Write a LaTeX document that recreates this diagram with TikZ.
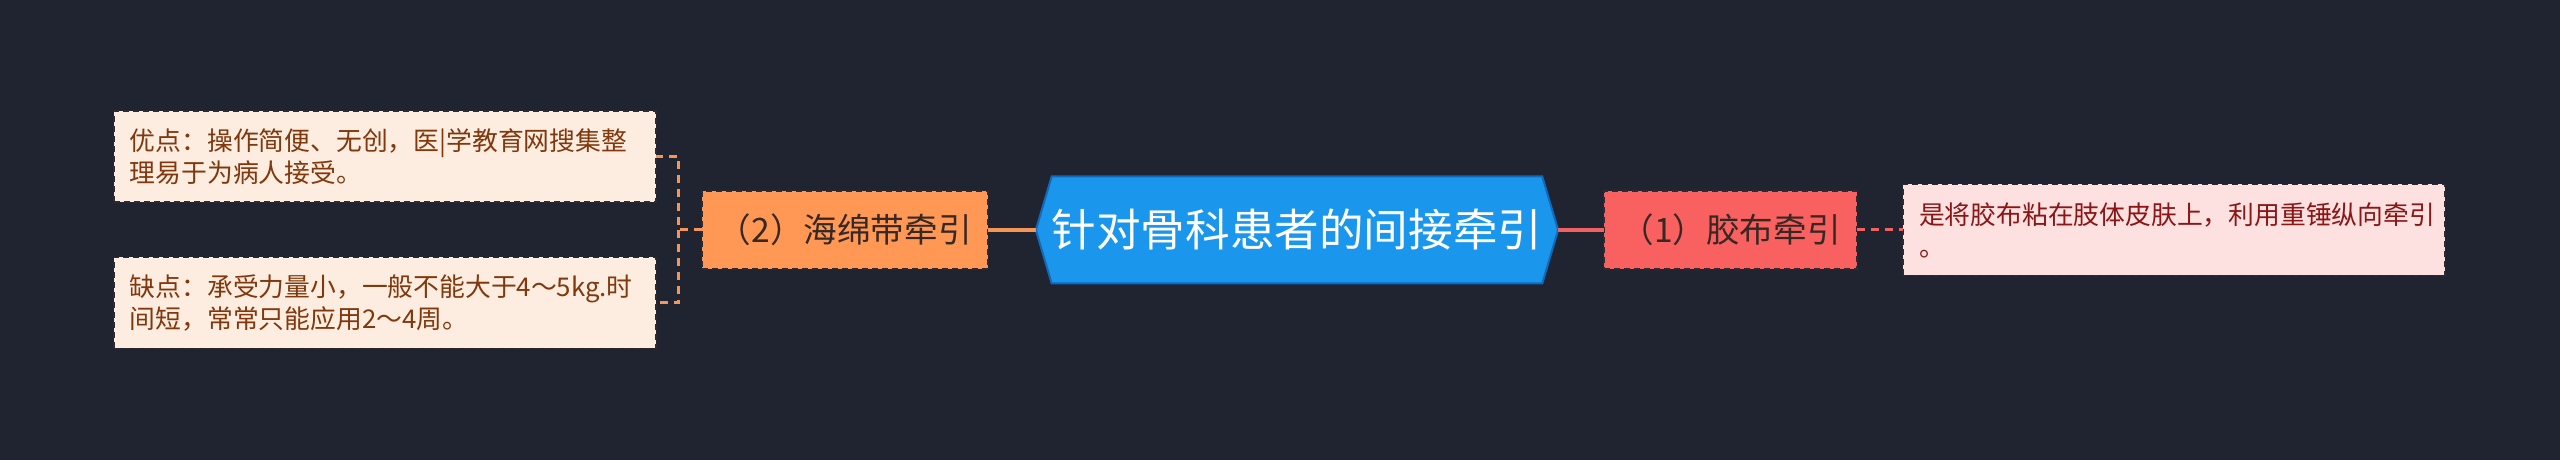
\documentclass[tikz,border=0pt]{standalone}
\usepackage{fontspec}
\setmainfont{Noto Sans CJK SC}
\usetikzlibrary{
    arrows.meta,
    calc,
    positioning,
    shapes.symbols
}
\definecolor{bg}{RGB}{32,36,48}
\definecolor{hubblue}{RGB}{26,150,236}
\definecolor{hubedge}{RGB}{18,105,185}
\definecolor{spongefill}{RGB}{255,152,84}
\definecolor{tapefill}{RGB}{249,96,96}
\definecolor{peach}{RGB}{253,236,224}
\definecolor{blush}{RGB}{253,224,224}
\definecolor{orangeline}{RGB}{246,150,86}
\definecolor{redline}{RGB}{240,98,98}
\definecolor{brownink}{RGB}{128,56,12}
\definecolor{redink}{RGB}{138,22,22}
\definecolor{darkink}{RGB}{55,40,36}
\definecolor{rim}{RGB}{45,42,50}
\tikzset{
    every picture/.style = {
        line width = 1.5pt
    },
    hub/.style = {
        signal,
        signal to = west and east,
        signal pointer angle = 147,
        fill = hubblue,
        draw = hubedge,
        line width = 1pt,
        inner sep = 0pt,
        outer sep = 0pt,
        minimum width = 249pt,
        minimum height = 53.5pt,
        text = white,
        font = \fontsize{22.3}{26}\selectfont
    },
    branch/.style = {
        rectangle,
        draw = rim,
        line width = 0.75pt,
        dash pattern = on 3pt off 2pt,
        inner sep = 0pt,
        outer sep = 0pt,
        minimum width = 143pt,
        minimum height = 39pt,
        text = darkink,
        font = \fontsize{16.8}{20}\selectfont
    },
    leaf/.style = {
        rectangle,
        draw = rim,
        line width = 0.75pt,
        dash pattern = on 3pt off 2pt,
        inner xsep = 8pt,
        inner ysep = 0pt,
        outer sep = 0pt,
        text width = 255pt,
        minimum height = 45.5pt,
        align = left,
        font = \fontsize{12.9}{16}\selectfont
    },
    stem/.style = {
        line width = 2pt
    },
    twig/.style = {
        line width = 1.5pt,
        dash pattern = on 4pt off 3pt
    }
}

\begin{document}
\begin{tikzpicture}[
                        node distance = 23pt,
                        % font = \small
                    ]
                        \fill[bg] (-648.5pt,-115pt) rectangle (631.5pt,115pt);

                        \node[hub] (root) {针对骨科患者的间接牵引};
                        \node[branch, fill = spongefill] (sponge) [left = 24pt of root] {（2）海绵带牵引};
                        \node[branch, fill = tapefill, minimum width = 126.5pt] (tape) [right = 23pt of root] {（1）胶布牵引};
                        \node[leaf, fill = peach, text = brownink] (pros) [left = 23pt of sponge, yshift = 36.75pt]
                            {优点：操作简便、无创，医|学教育网搜集整\\理易于为病人接受。};
                        \node[leaf, fill = peach, text = brownink] (cons) [left = 23pt of sponge, yshift = -36.5pt]
                            {缺点：承受力量小，一般不能大于4～5kg.时\\间短，常常只能应用2～4周。};
                        \node[leaf, fill = blush, text = redink] (rule) [right = 23pt of tape]
                            {是将胶布粘在肢体皮肤上，利用重锤纵向牵引\\。};
                        \coordinate[left = 11.5pt of sponge.west] (fork);

                        \draw[stem, orangeline] (sponge.east) -- (root.west);
                        \draw[stem, redline] (root.east) -- (tape.west);
                        \draw[twig, redline] (tape.east) -- (rule.west);
                        \draw[twig, orangeline] (sponge.west) -- (fork) |- (pros.east);
                        \draw[twig, orangeline] (fork) |- (cons.east);
                    \end{tikzpicture}
\end{document}
